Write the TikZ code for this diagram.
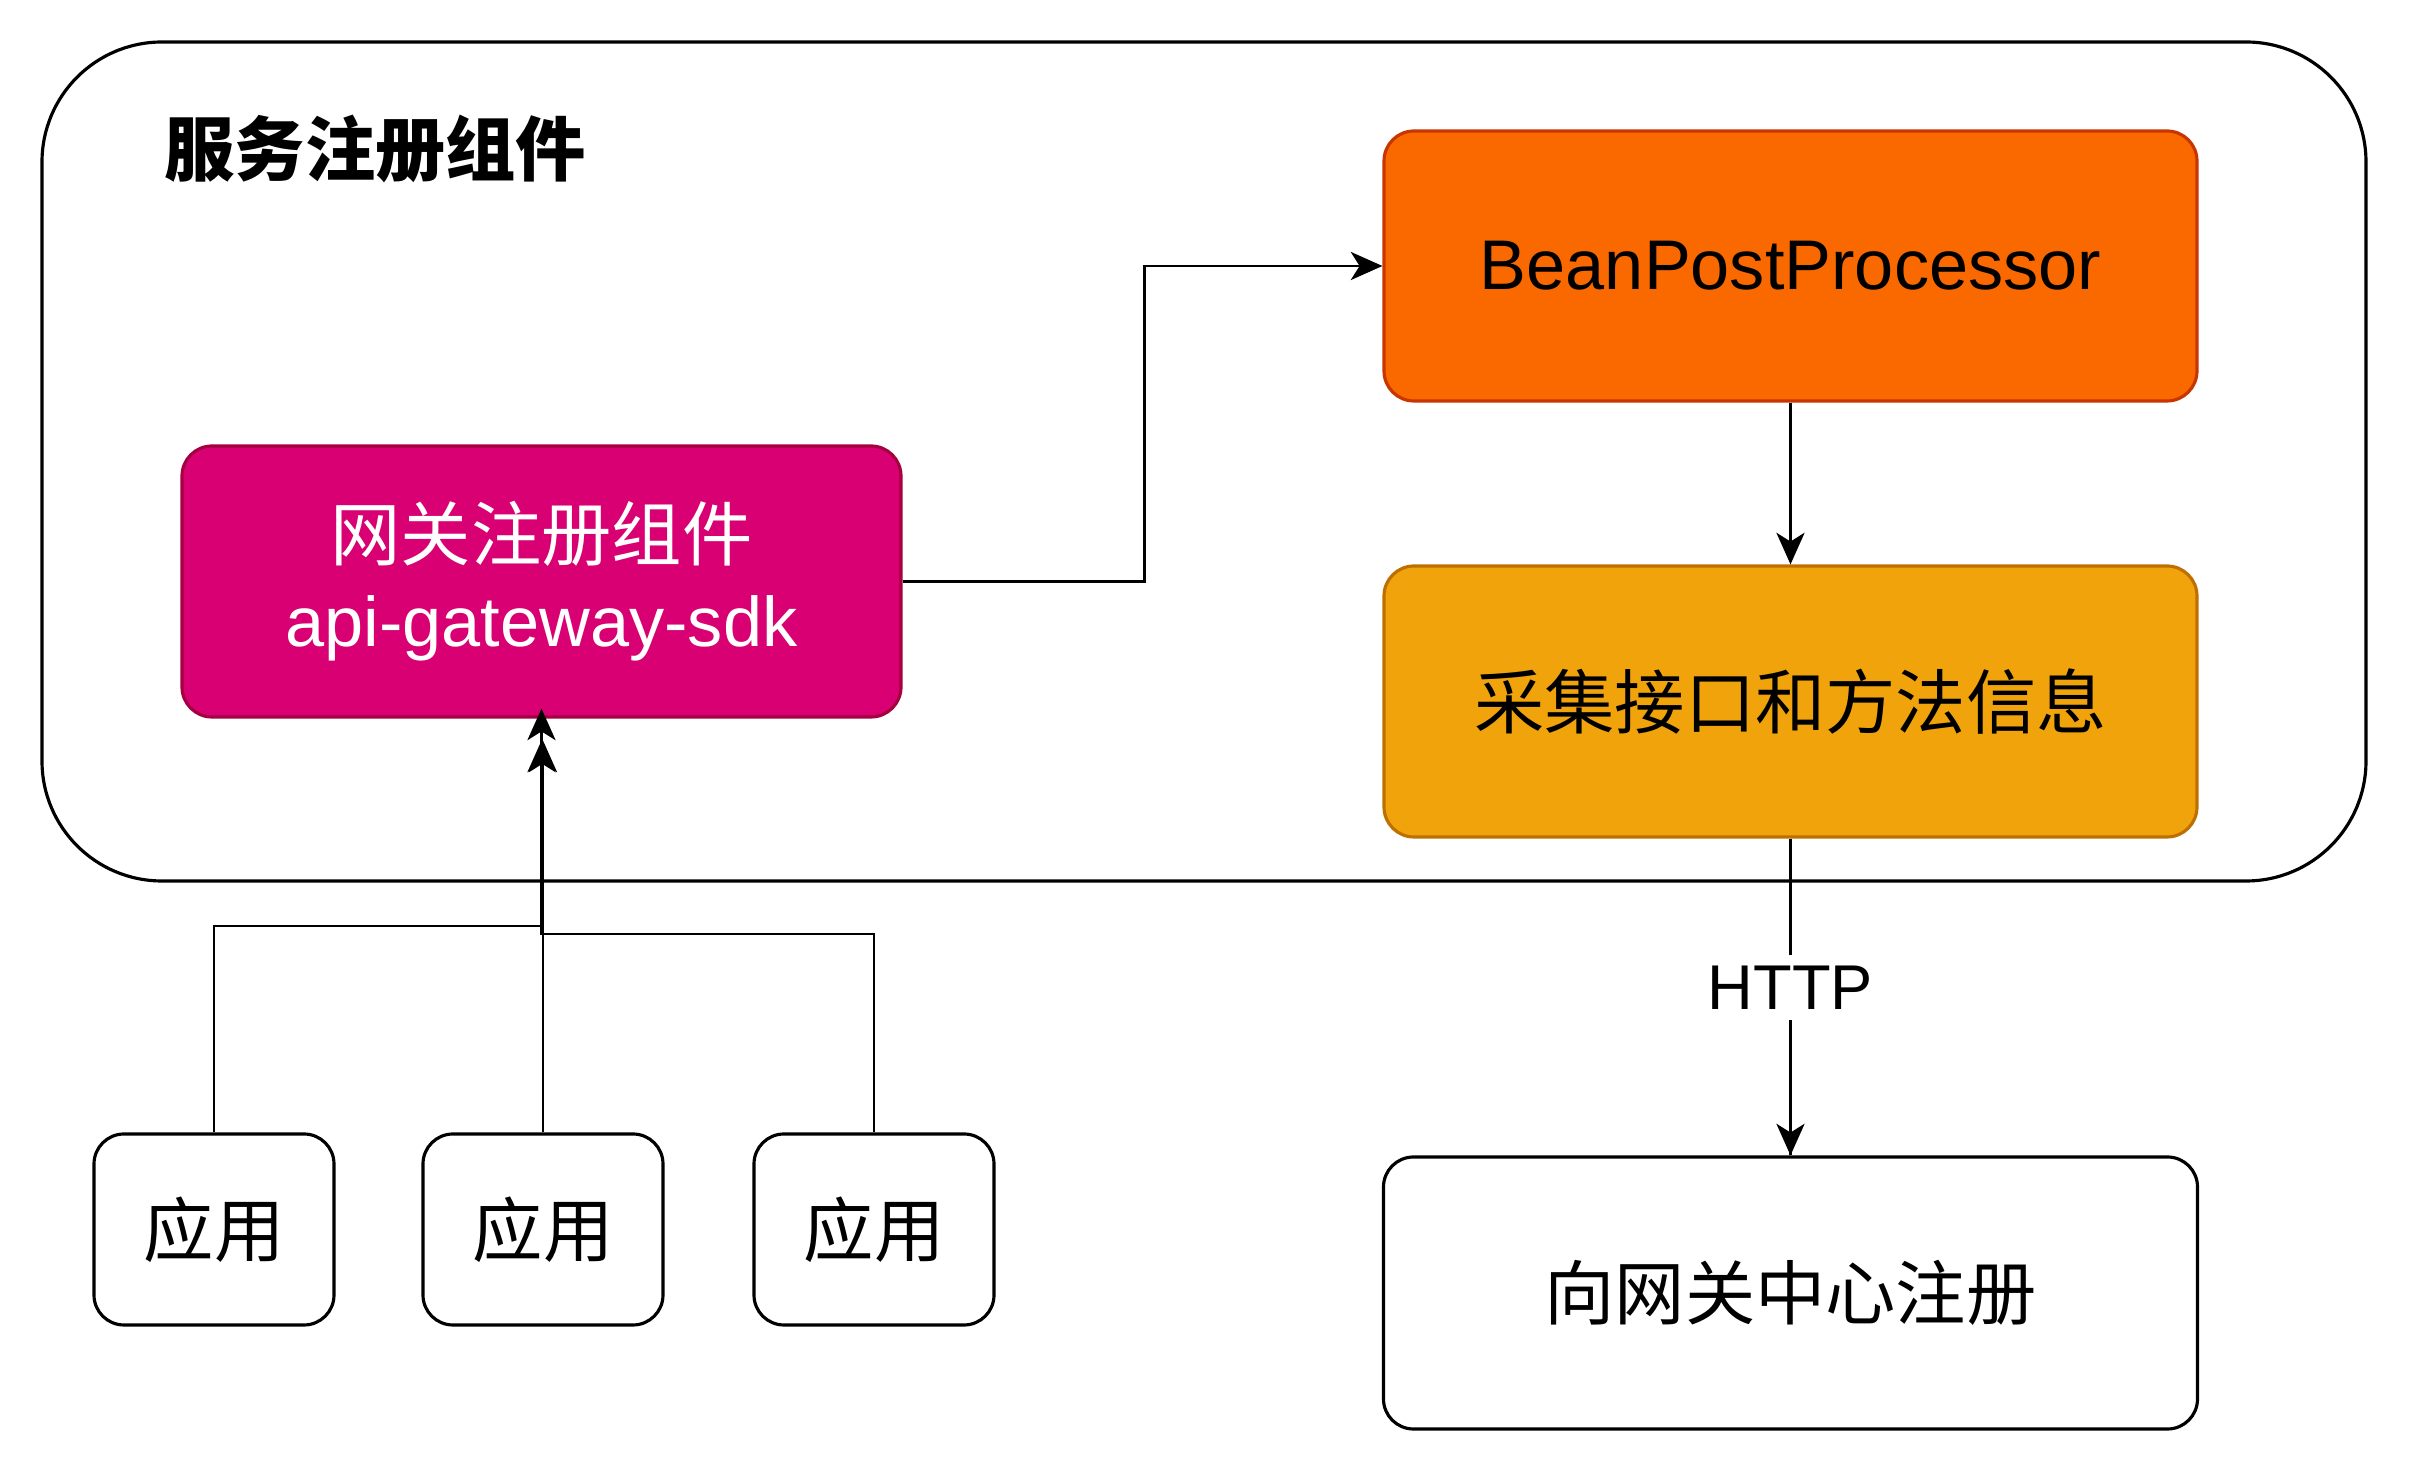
\documentclass[tikz,border=0pt]{standalone}
\usepackage{fontspec}
\setmainfont{Liberation Sans}
\newfontfamily\cjk{Noto Sans CJK SC}
\usetikzlibrary{arrows.meta}

\definecolor{magentafill}{HTML}{D80073}
\definecolor{magentaline}{HTML}{A50040}
\definecolor{orangefill}{HTML}{FA6800}
\definecolor{orangeline}{HTML}{C73500}
\definecolor{amberfill}{HTML}{F0A30A}
\definecolor{amberline}{HTML}{BD7000}

\tikzset{
	box/.style={draw, line width=0.9pt, rounded corners=0.3cm, align=center,
		font=\fontsize{20pt}{24.5pt}\selectfont},
	conn/.style={line width=0.8pt, -{Stealth[length=9pt,width=8pt,inset=2.5pt]}},
	wire/.style={line width=0.8pt}
}

\begin{document}
\begin{tikzpicture}
		\useasboundingbox (0,0) rectangle (24.12,14.72);

		% Komponent
		\draw[line width=0.9pt, rounded corners=1.2cm] (0.42,5.91) rectangle (23.66,14.30);
		\node[anchor=west, font=\fontsize{20pt}{24pt}\selectfont\cjk\bfseries] (title) at (1.52,13.23) {服务注册组件};

		% Bokser
		\node[box, fill=magentafill, draw=magentaline, text=white, minimum width=7.19cm, minimum height=2.71cm] (gw) at (5.415,8.905) {{\cjk 网关注册组件}\\api-gateway-sdk};
		\node[box, fill=orangefill, draw=orangeline, minimum width=8.13cm, minimum height=2.70cm] (bpp) at (17.905,12.06) {BeanPostProcessor};
		\node[box, fill=amberfill, draw=amberline, minimum width=8.13cm, minimum height=2.71cm] (collect) at (17.905,7.705) {\cjk 采集接口和方法信息};
		\node[box, fill=white, minimum width=8.14cm, minimum height=2.72cm] (register) at (17.905,1.79) {\cjk 向网关中心注册};

		% Applikasjoner
		\foreach \i/\x in {1/2.14, 2/5.43, 3/8.74}
			\node[box, minimum width=2.40cm, minimum height=1.91cm] (app\i) at (\x,2.425) {\cjk 应用};

		% Piler
		\draw[conn] (gw.east) -- ++(2.42,0) |- (bpp.west);
		\draw[conn] (bpp.south) -- (collect.north);
		\draw[wire] (collect.south) -- node[fill=white, inner sep=3pt, pos=0.47, font=\fontsize{18pt}{22pt}\selectfont] (http) {HTTP} (register.north);
		\draw[conn] (http.south) -- (register.north);

		\coordinate (j1) at (5.415,5.46);
		\coordinate (j3) at (5.415,5.38);
		\draw[conn, shorten >=-0.1cm] (app1.north) |- (j1) -- (gw.south);
		\draw[conn, shorten >=0.22cm] (app2.north) -- (app2.north |- gw.south);
		\draw[conn, shorten >=0.22cm] (app3.north) |- (j3) -- (gw.south);
	\end{tikzpicture}
\end{document}
